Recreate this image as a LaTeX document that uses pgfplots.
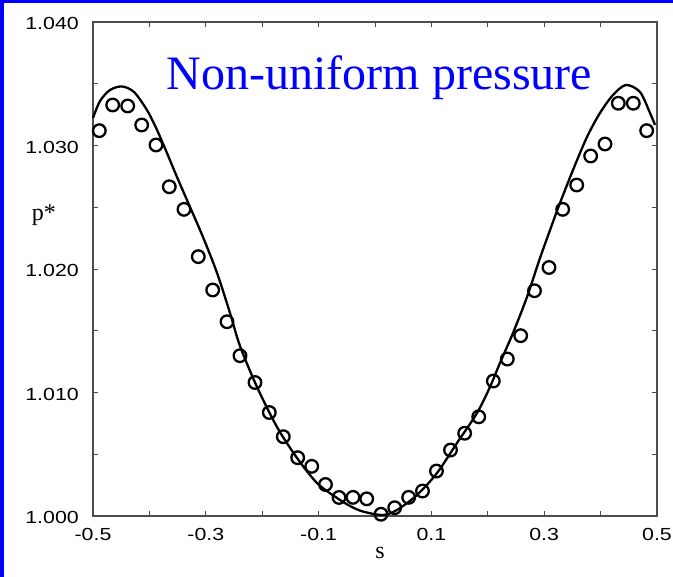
\documentclass[border=0pt]{standalone}
\usepackage{fontspec}
\usepackage{pgfplots}
\pgfplotsset{compat=1.18}
\setmainfont{Liberation Serif}
\newfontfamily\tickfont[FakeStretch=1.22]{Liberation Sans}
\begin{document}
\begin{tikzpicture}
\path[use as bounding box, fill=white] (0pt,0pt) rectangle (673pt,577pt);
\fill[blue] (0pt,0pt) rectangle (3.5pt,577pt);
\fill[blue] (0pt,574pt) rectangle (673pt,577pt);
\begin{axis}[at={(93pt,61pt)}, anchor=south west, scale only axis,
 width=564pt, height=494pt,
 xmin=-0.5, xmax=0.5, ymin=1.0, ymax=1.04,
 xtick={-0.5,-0.3,-0.1,0.1,0.3,0.5}, xticklabels={-0.5,-0.3,-0.1,0.1,0.3,0.5},
 minor xtick={-0.4,-0.2,0,0.2,0.4},
 ytick={1,1.01,1.02,1.03,1.04}, yticklabels={1.000,1.010,1.020,1.030,1.040},
 minor ytick={1.005,1.015,1.025,1.035},
 tick align=inside, major tick length=5pt, minor tick length=5pt,
 tick style={black!70, line width=0.8pt},
 axis line style={black!70, line width=1.1pt},
 tick label style={font=\fontsize{17.5}{17.5}\tickfont, inner sep=0pt, text=black},
 xticklabel style={yshift=-12pt},
 yticklabel style={xshift=-14pt, yshift=-1.5pt},
 clip=false,
]
\addplot[black, line width=2.3pt, smooth, no marks] coordinates {
(-0.5000,1.03223) (-0.4876,1.03360) (-0.4699,1.03449) (-0.4486,1.03478)
(-0.4273,1.03433) (-0.4043,1.03287) (-0.3865,1.03126) (-0.3688,1.02939)
(-0.3511,1.02745) (-0.3280,1.02502) (-0.3050,1.02259) (-0.2801,1.01968)
(-0.2571,1.01644) (-0.2394,1.01377) (-0.2092,1.01045) (-0.1738,1.00721)
(-0.1383,1.00470) (-0.1028,1.00267) (-0.0674,1.00146) (-0.0443,1.00081)
(-0.0213,1.00036) (0.0142,1.00008) (0.0390,1.00049) (0.0745,1.00170)
(0.1099,1.00348) (0.1454,1.00591) (0.1809,1.00834) (0.2039,1.01045)
(0.2216,1.01239) (0.2447,1.01482) (0.2695,1.01773) (0.2926,1.02089)
(0.3156,1.02381) (0.3280,1.02534) (0.3511,1.02802) (0.3759,1.03069)
(0.3989,1.03263) (0.4220,1.03409) (0.4450,1.03490) (0.4699,1.03433)
(0.4876,1.03263) (0.4965,1.03166)
};
\addplot[only marks, mark=o, mark size=6.3pt, mark options={line width=2.3pt, black}] coordinates {
(-0.4888,1.03120) (-0.4651,1.03328) (-0.4385,1.03320) (-0.4137,1.03166)
(-0.3883,1.03004) (-0.3647,1.02666) (-0.3387,1.02483) (-0.3133,1.02100)
(-0.2878,1.01830) (-0.2624,1.01573) (-0.2394,1.01298) (-0.2128,1.01081)
(-0.1874,1.00838) (-0.1626,1.00642) (-0.1371,1.00472) (-0.1122,1.00402)
(-0.0878,1.00255) (-0.0638,1.00150) (-0.0390,1.00151) (-0.0147,1.00139)
(0.0106,1.00014) (0.0349,1.00067) (0.0597,1.00151) (0.0842,1.00202)
(0.1090,1.00364) (0.1339,1.00534) (0.1590,1.00670) (0.1839,1.00803)
(0.2098,1.01093) (0.2346,1.01271) (0.2583,1.01460) (0.2828,1.01824)
(0.3085,1.02012) (0.3328,1.02483) (0.3576,1.02680) (0.3824,1.02915)
(0.4078,1.03012) (0.4314,1.03342) (0.4580,1.03342) (0.4817,1.03120)
};
\node[font=\fontsize{24}{24}\selectfont, anchor=center] at (rel axis cs:-0.087,0.609) {p*};
\node[font=\fontsize{24}{24}\selectfont, anchor=center] at (rel axis cs:0.509,-0.075) {s};
\end{axis}
\node[text=blue, font=\fontsize{48}{48}\selectfont, anchor=base, inner sep=0pt] at (379.5pt,487pt) {Non-uniform pressure};
\end{tikzpicture}
\end{document}
